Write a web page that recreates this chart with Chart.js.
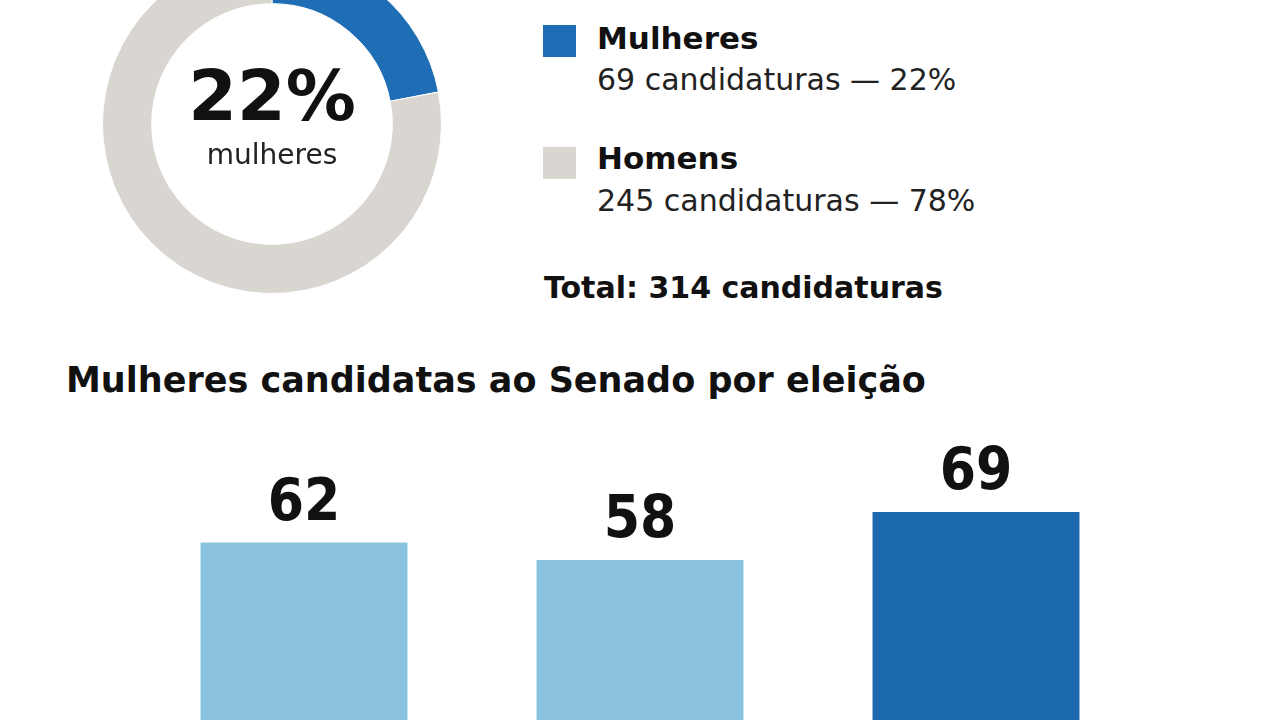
<!DOCTYPE html>
<html lang="pt-BR">
<head>
<meta charset="utf-8">
<title>Mulheres candidatas ao Senado</title>
<script src="https://cdn.jsdelivr.net/npm/chart.js@4.4.1/dist/chart.umd.min.js"></script>
<style>
  html, body { margin: 0; padding: 0; background: #fff; }
  body { width: 1280px; height: 720px; overflow: hidden; position: relative;
         font-family: "DejaVu Sans", Verdana, sans-serif; color: #1a1a1a; }
  #donut { position: absolute; left: 102px; top: -46px; }
  #bars { position: absolute; left: 136px; top: 420px; }
  .center { position: absolute; left: 172px; width: 200px; text-align: center; }
  #pct { top: 56px; font-size: 70px; font-weight: bold; color: #111; line-height: 80px; }
  #pctLabel { top: 138px; font-size: 28px; color: #222; line-height: 34px; }
  .sw { position: absolute; left: 543px; width: 33px; height: 32px; }
  .t { position: absolute; white-space: nowrap; }
  .b { font-weight: bold; color: #111; }
  #title { left: 66px; top: 360px; font-size: 35px; font-weight: bold; color: #111; }
</style>
</head>
<body>
<canvas id="donut" width="340" height="340"></canvas>
<div class="center" id="pct"></div>
<div class="center" id="pctLabel">mulheres</div>

<div class="sw" id="sw0" style="top:25px"></div>
<div class="t b" id="name0" style="left:597px; top:20px; font-size:31px;"></div>
<div class="t" id="info0" style="left:597px; top:62px; font-size:30px; color:#222;"></div>
<div class="sw" id="sw1" style="top:147px"></div>
<div class="t b" id="name1" style="left:597px; top:140px; font-size:31px;"></div>
<div class="t" id="info1" style="left:597px; top:183px; font-size:30px; color:#222;"></div>
<div class="t b" id="total" style="left:544px; top:270px; font-size:30px;"></div>

<div class="t" id="title">Mulheres candidatas ao Senado por eleição</div>
<canvas id="bars" width="1008" height="393"></canvas>

<script>
(function(){
  // donut: candidaturas ao Senado por gênero
  const generos = ['Mulheres', 'Homens'];
  const candidaturas = [69, 245];
  const corGenero = ['#1f6db5', '#d9d6d2'];

  // barras: mulheres candidatas por eleição
  const eleicoes = ['2014', '2018', '2022'];
  const mulheresPorEleicao = [62, 58, 69];
  const corBarras = ['#8bc2de', '#8bc2de', '#1c69ad'];

  const total = candidaturas.reduce((a, b) => a + b, 0);
  const pcts = candidaturas.map(v => Math.round(v / total * 100));

  document.getElementById('pct').textContent = pcts[0] + '%';
  generos.forEach((g, i) => {
    document.getElementById('sw' + i).style.background = corGenero[i];
    document.getElementById('name' + i).textContent = g;
    document.getElementById('info' + i).textContent =
      candidaturas[i] + ' candidaturas \u2014 ' + pcts[i] + '%';
  });
  document.getElementById('total').textContent = 'Total: ' + total + ' candidaturas';

  new Chart(document.getElementById('donut').getContext('2d'), {
    type: 'doughnut',
    data: {
      labels: generos,
      datasets: [{
        data: candidaturas,
        backgroundColor: corGenero,
        borderColor: '#fff',
        borderWidth: 1,
        hoverOffset: 0
      }]
    },
    options: {
      responsive: false,
      animation: false,
      events: [],
      cutout: '71%',
      layout: { padding: 0 },
      plugins: { legend: { display: false }, tooltip: { enabled: false } }
    }
  });

  const valueLabels = {
    id: 'valueLabels',
    afterDatasetsDraw(chart) {
      const c = chart.ctx;
      const meta = chart.getDatasetMeta(0);
      c.save();
      c.font = 'bold 58px "DejaVu Sans Condensed", "DejaVu Sans", sans-serif';
      c.fillStyle = '#111';
      c.textAlign = 'center';
      c.textBaseline = 'alphabetic';
      meta.data.forEach((bar, i) => {
        c.fillText(String(chart.data.datasets[0].data[i]), bar.x, bar.y - 23);
      });
      c.restore();
    }
  };

  new Chart(document.getElementById('bars').getContext('2d'), {
    type: 'bar',
    data: {
      labels: eleicoes,
      datasets: [{
        data: mulheresPorEleicao,
        backgroundColor: corBarras,
        borderWidth: 0,
        categoryPercentage: 1,
        barPercentage: 0.616
      }]
    },
    options: {
      responsive: false,
      animation: false,
      events: [],
      layout: { padding: { top: 44, left: 0, right: 0, bottom: 0 } },
      scales: {
        x: { display: false },
        y: { display: false, min: 0, max: 80 }
      },
      plugins: { legend: { display: false }, tooltip: { enabled: false } }
    },
    plugins: [valueLabels]
  });
})();
</script>
</body>
</html>
